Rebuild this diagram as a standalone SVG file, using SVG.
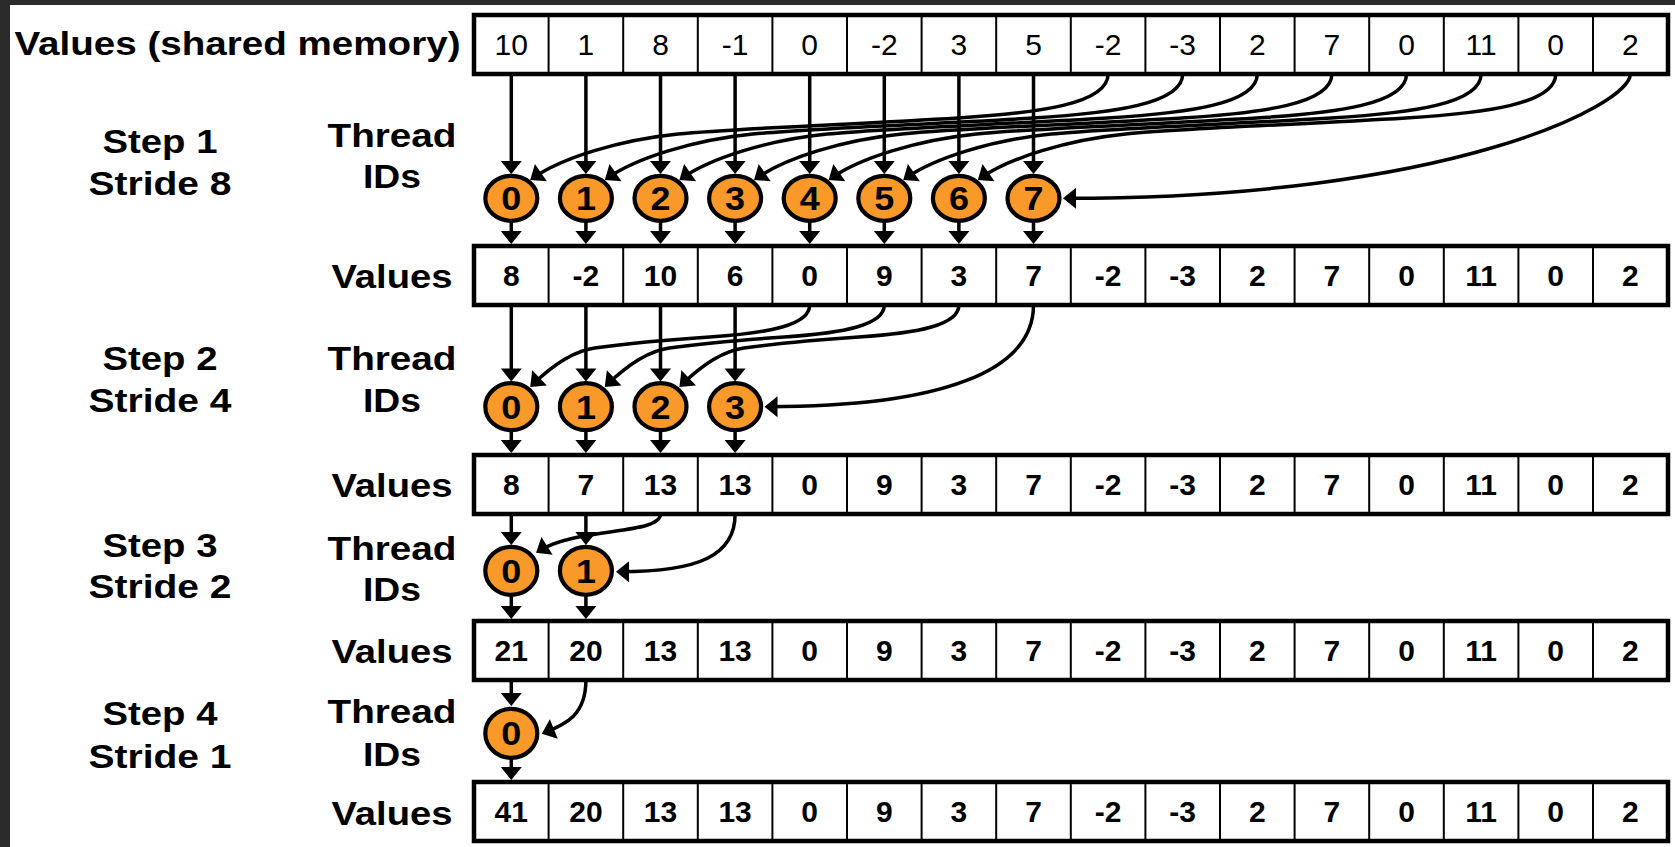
<svg xmlns="http://www.w3.org/2000/svg" width="1675" height="847" viewBox="0 0 1675 847">
<style>
text{font-family:"Liberation Sans",Arial,Helvetica,sans-serif;fill:#000;text-anchor:middle}
.lbl{font-size:33px;font-weight:bold}
.v0{font-size:30px}
.v{font-size:30px;font-weight:bold}
.tid{font-size:33px;font-weight:bold}
.frame{fill:none;stroke:#000;stroke-width:4.5}
.dv{fill:none;stroke:#000;stroke-width:2}
.th{fill:#F8992A;stroke:#000;stroke-width:4.2}
.c{fill:none;stroke:#000;stroke-width:3.5;marker-end:url(#ah)}
</style>
<defs>
<marker id="ah" markerUnits="userSpaceOnUse" markerWidth="13" markerHeight="21" refX="9.5" refY="10.5" orient="auto" overflow="visible"><path d="M0,0L13,10.5L0,21Z" fill="#000"/></marker>
<g id="grid">
<rect x="474" y="0" width="1194" height="59" fill="#fff"/>
<path class="dv" d="M548.6,0V59M623.2,0V59M697.8,0V59M772.4,0V59M847,0V59M921.6,0V59M996.2,0V59M1070.8,0V59M1145.4,0V59M1220,0V59M1294.6,0V59M1369.2,0V59M1443.8,0V59M1518.4,0V59M1593,0V59"/>
<rect class="frame" x="474" y="0" width="1194" height="59"/>
</g>
</defs>
<rect x="0" y="0" width="1675" height="847" fill="#fff"/>
<rect x="0" y="0" width="1675" height="5" fill="#2b2b2b"/>
<rect x="0" y="0" width="10" height="847" fill="#2b2b2b"/>

<g id="labels">
<text class="lbl" x="237.5" y="55" textLength="446" lengthAdjust="spacingAndGlyphs">Values (shared memory)</text>
<text class="lbl" x="160" y="153" textLength="115" lengthAdjust="spacingAndGlyphs">Step 1</text>
<text class="lbl" x="160" y="195" textLength="143" lengthAdjust="spacingAndGlyphs">Stride 8</text>
<text class="lbl" x="392" y="147" textLength="129" lengthAdjust="spacingAndGlyphs">Thread</text>
<text class="lbl" x="392" y="188" textLength="58" lengthAdjust="spacingAndGlyphs">IDs</text>
<text class="lbl" x="392" y="288" textLength="121" lengthAdjust="spacingAndGlyphs">Values</text>
<text class="lbl" x="160" y="370" textLength="115" lengthAdjust="spacingAndGlyphs">Step 2</text>
<text class="lbl" x="160" y="411.7" textLength="143" lengthAdjust="spacingAndGlyphs">Stride 4</text>
<text class="lbl" x="392" y="370" textLength="129" lengthAdjust="spacingAndGlyphs">Thread</text>
<text class="lbl" x="392" y="411.7" textLength="58" lengthAdjust="spacingAndGlyphs">IDs</text>
<text class="lbl" x="392" y="497" textLength="121" lengthAdjust="spacingAndGlyphs">Values</text>
<text class="lbl" x="160" y="556.7" textLength="115" lengthAdjust="spacingAndGlyphs">Step 3</text>
<text class="lbl" x="160" y="598" textLength="143" lengthAdjust="spacingAndGlyphs">Stride 2</text>
<text class="lbl" x="392" y="560" textLength="129" lengthAdjust="spacingAndGlyphs">Thread</text>
<text class="lbl" x="392" y="601" textLength="58" lengthAdjust="spacingAndGlyphs">IDs</text>
<text class="lbl" x="392" y="663" textLength="121" lengthAdjust="spacingAndGlyphs">Values</text>
<text class="lbl" x="160" y="725" textLength="115" lengthAdjust="spacingAndGlyphs">Step 4</text>
<text class="lbl" x="160" y="768" textLength="143" lengthAdjust="spacingAndGlyphs">Stride 1</text>
<text class="lbl" x="392" y="723" textLength="129" lengthAdjust="spacingAndGlyphs">Thread</text>
<text class="lbl" x="392" y="766" textLength="58" lengthAdjust="spacingAndGlyphs">IDs</text>
<text class="lbl" x="392" y="825" textLength="121" lengthAdjust="spacingAndGlyphs">Values</text>
</g>

<g id="row1">
<use href="#grid" transform="translate(0,15)"/>
<g class="v0">
<text x="511.3" y="55.3">10</text><text x="585.9" y="55.3">1</text><text x="660.5" y="55.3">8</text><text x="735.1" y="55.3">-1</text><text x="809.7" y="55.3">0</text><text x="884.3" y="55.3">-2</text><text x="958.9" y="55.3">3</text><text x="1033.5" y="55.3">5</text><text x="1108.1" y="55.3">-2</text><text x="1182.7" y="55.3">-3</text><text x="1257.3" y="55.3">2</text><text x="1331.9" y="55.3">7</text><text x="1406.5" y="55.3">0</text><text x="1481.1" y="55.3">11</text><text x="1555.7" y="55.3">0</text><text x="1630.3" y="55.3">2</text>
</g>
</g>

<g id="row2">
<use href="#grid" transform="translate(0,246)"/>
<g class="v">
<text x="511.3" y="286.3">8</text><text x="585.9" y="286.3">-2</text><text x="660.5" y="286.3">10</text><text x="735.1" y="286.3">6</text><text x="809.7" y="286.3">0</text><text x="884.3" y="286.3">9</text><text x="958.9" y="286.3">3</text><text x="1033.5" y="286.3">7</text><text x="1108.1" y="286.3">-2</text><text x="1182.7" y="286.3">-3</text><text x="1257.3" y="286.3">2</text><text x="1331.9" y="286.3">7</text><text x="1406.5" y="286.3">0</text><text x="1481.1" y="286.3">11</text><text x="1555.7" y="286.3">0</text><text x="1630.3" y="286.3">2</text>
</g>
</g>

<g id="row3">
<use href="#grid" transform="translate(0,455)"/>
<g class="v">
<text x="511.3" y="495.3">8</text><text x="585.9" y="495.3">7</text><text x="660.5" y="495.3">13</text><text x="735.1" y="495.3">13</text><text x="809.7" y="495.3">0</text><text x="884.3" y="495.3">9</text><text x="958.9" y="495.3">3</text><text x="1033.5" y="495.3">7</text><text x="1108.1" y="495.3">-2</text><text x="1182.7" y="495.3">-3</text><text x="1257.3" y="495.3">2</text><text x="1331.9" y="495.3">7</text><text x="1406.5" y="495.3">0</text><text x="1481.1" y="495.3">11</text><text x="1555.7" y="495.3">0</text><text x="1630.3" y="495.3">2</text>
</g>
</g>

<g id="row4">
<use href="#grid" transform="translate(0,621)"/>
<g class="v">
<text x="511.3" y="661.3">21</text><text x="585.9" y="661.3">20</text><text x="660.5" y="661.3">13</text><text x="735.1" y="661.3">13</text><text x="809.7" y="661.3">0</text><text x="884.3" y="661.3">9</text><text x="958.9" y="661.3">3</text><text x="1033.5" y="661.3">7</text><text x="1108.1" y="661.3">-2</text><text x="1182.7" y="661.3">-3</text><text x="1257.3" y="661.3">2</text><text x="1331.9" y="661.3">7</text><text x="1406.5" y="661.3">0</text><text x="1481.1" y="661.3">11</text><text x="1555.7" y="661.3">0</text><text x="1630.3" y="661.3">2</text>
</g>
</g>

<g id="row5">
<use href="#grid" transform="translate(0,782)"/>
<g class="v">
<text x="511.3" y="822.3">41</text><text x="585.9" y="822.3">20</text><text x="660.5" y="822.3">13</text><text x="735.1" y="822.3">13</text><text x="809.7" y="822.3">0</text><text x="884.3" y="822.3">9</text><text x="958.9" y="822.3">3</text><text x="1033.5" y="822.3">7</text><text x="1108.1" y="822.3">-2</text><text x="1182.7" y="822.3">-3</text><text x="1257.3" y="822.3">2</text><text x="1331.9" y="822.3">7</text><text x="1406.5" y="822.3">0</text><text x="1481.1" y="822.3">11</text><text x="1555.7" y="822.3">0</text><text x="1630.3" y="822.3">2</text>
</g>
</g>

<g id="connectors">
<!-- step 1 -->
<path class="c" d="M511.3,74V170.5"/><path class="c" d="M585.9,74V170.5"/><path class="c" d="M660.5,74V170.5"/><path class="c" d="M735.1,74V170.5"/><path class="c" d="M809.7,74V170.5"/><path class="c" d="M884.3,74V170.5"/><path class="c" d="M958.9,74V170.5"/><path class="c" d="M1033.5,74V170.5"/>
<path class="c" d="M1108.1,74 C1108.1,104 1038.1,113 958.1,118 C858.1,124.25 738.1,128 678.1,134 C618.1,140 561.1,158.5 533.1,178"/>
<path class="c" d="M1182.7,74 C1182.7,104 1112.7,113 1032.7,118 C932.7,124.25 812.7,128 752.7,134 C692.7,140 635.7,158.5 607.7,178"/>
<path class="c" d="M1257.3,74 C1257.3,104 1187.3,113 1107.3,118 C1007.3,124.25 887.3,128 827.3,134 C767.3,140 710.3,158.5 682.3,178"/>
<path class="c" d="M1331.9,74 C1331.9,104 1261.9,113 1181.9,118 C1081.9,124.25 961.9,128 901.9,134 C841.9,140 784.9,158.5 756.9,178"/>
<path class="c" d="M1406.5,74 C1406.5,104 1336.5,113 1256.5,118 C1156.5,124.25 1036.5,128 976.5,134 C916.5,140 859.5,158.5 831.5,178"/>
<path class="c" d="M1481.1,74 C1481.1,104 1411.1,113 1331.1,118 C1231.1,124.25 1111.1,128 1051.1,134 C991.1,140 934.1,158.5 906.1,178"/>
<path class="c" d="M1555.7,74 C1555.7,104 1485.7,113 1405.7,118 C1305.7,124.25 1185.7,128 1125.7,134 C1065.7,140 1008.7,158.5 980.7,178"/>
<path class="c" d="M1630.3,74 C1630.3,105 1450,198.3 1066.5,198.3"/>
<path class="c" d="M511.3,220V240.5"/><path class="c" d="M585.9,220V240.5"/><path class="c" d="M660.5,220V240.5"/><path class="c" d="M735.1,220V240.5"/><path class="c" d="M809.7,220V240.5"/><path class="c" d="M884.3,220V240.5"/><path class="c" d="M958.9,220V240.5"/><path class="c" d="M1033.5,220V240.5"/>
<!-- step 2 -->
<path class="c" d="M511.3,305V378"/><path class="c" d="M585.9,305V378"/><path class="c" d="M660.5,305V378"/><path class="c" d="M735.1,305V378"/>
<path class="c" d="M809.7,305 C809.7,325 769.7,333 709.7,337 C664.7,340 619.7,344.5 594.7,348 C569.7,351.5 547.7,370 532.7,384.5"/>
<path class="c" d="M884.3,305 C884.3,325 844.3,333 784.3,337 C739.3,340 694.3,344.5 669.3,348 C644.3,351.5 622.3,370 607.3,384.5"/>
<path class="c" d="M958.9,305 C958.9,325 918.9,333 858.9,337 C813.9,340 768.9,344.5 743.9,348 C718.9,351.5 696.9,370 681.9,384.5"/>
<path class="c" d="M1033.5,305 C1033.5,372 940,406.7 768,406.7"/>
<path class="c" d="M511.3,430V449.5"/><path class="c" d="M585.9,430V449.5"/><path class="c" d="M660.5,430V449.5"/><path class="c" d="M735.1,430V449.5"/>
<!-- step 3 -->
<path class="c" d="M511.3,514V541.5"/><path class="c" d="M585.9,514V541.5"/>
<path class="c" d="M660.5,514 C660.5,535 577,527 539,551"/>
<path class="c" d="M735.1,514 C735.1,555 700,571.7 619.5,571.7"/>
<path class="c" d="M511.3,595V615.5"/><path class="c" d="M585.9,595V615.5"/>
<!-- step 4 -->
<path class="c" d="M511.3,680V702.5"/>
<path class="c" d="M585.9,680 C585.9,715 566,724 545,732.5"/>
<path class="c" d="M511.3,758V776.5"/>
</g>

<g id="step1-threads">
<g id="s1t0"><ellipse class="th" cx="511.3" cy="198.3" rx="26" ry="22.5"/><text class="tid" x="511.3" y="210.1" textLength="20" lengthAdjust="spacingAndGlyphs">0</text></g>
<g id="s1t1"><ellipse class="th" cx="585.9" cy="198.3" rx="26" ry="22.5"/><text class="tid" x="585.9" y="210.1" textLength="20" lengthAdjust="spacingAndGlyphs">1</text></g>
<g id="s1t2"><ellipse class="th" cx="660.5" cy="198.3" rx="26" ry="22.5"/><text class="tid" x="660.5" y="210.1" textLength="20" lengthAdjust="spacingAndGlyphs">2</text></g>
<g id="s1t3"><ellipse class="th" cx="735.1" cy="198.3" rx="26" ry="22.5"/><text class="tid" x="735.1" y="210.1" textLength="20" lengthAdjust="spacingAndGlyphs">3</text></g>
<g id="s1t4"><ellipse class="th" cx="809.7" cy="198.3" rx="26" ry="22.5"/><text class="tid" x="809.7" y="210.1" textLength="20" lengthAdjust="spacingAndGlyphs">4</text></g>
<g id="s1t5"><ellipse class="th" cx="884.3" cy="198.3" rx="26" ry="22.5"/><text class="tid" x="884.3" y="210.1" textLength="20" lengthAdjust="spacingAndGlyphs">5</text></g>
<g id="s1t6"><ellipse class="th" cx="958.9" cy="198.3" rx="26" ry="22.5"/><text class="tid" x="958.9" y="210.1" textLength="20" lengthAdjust="spacingAndGlyphs">6</text></g>
<g id="s1t7"><ellipse class="th" cx="1033.5" cy="198.3" rx="26" ry="22.5"/><text class="tid" x="1033.5" y="210.1" textLength="20" lengthAdjust="spacingAndGlyphs">7</text></g>
</g>
<g id="step2-threads">
<g id="s2t0"><ellipse class="th" cx="511.3" cy="406.7" rx="26" ry="23.5"/><text class="tid" x="511.3" y="418.5" textLength="20" lengthAdjust="spacingAndGlyphs">0</text></g>
<g id="s2t1"><ellipse class="th" cx="585.9" cy="406.7" rx="26" ry="23.5"/><text class="tid" x="585.9" y="418.5" textLength="20" lengthAdjust="spacingAndGlyphs">1</text></g>
<g id="s2t2"><ellipse class="th" cx="660.5" cy="406.7" rx="26" ry="23.5"/><text class="tid" x="660.5" y="418.5" textLength="20" lengthAdjust="spacingAndGlyphs">2</text></g>
<g id="s2t3"><ellipse class="th" cx="735.1" cy="406.7" rx="26" ry="23.5"/><text class="tid" x="735.1" y="418.5" textLength="20" lengthAdjust="spacingAndGlyphs">3</text></g>
</g>
<g id="step3-threads">
<g id="s3t0"><ellipse class="th" cx="511.3" cy="570.8" rx="26" ry="24"/><text class="tid" x="511.3" y="582.6" textLength="20" lengthAdjust="spacingAndGlyphs">0</text></g>
<g id="s3t1"><ellipse class="th" cx="585.9" cy="570.8" rx="26" ry="24"/><text class="tid" x="585.9" y="582.6" textLength="20" lengthAdjust="spacingAndGlyphs">1</text></g>
</g>
<g id="step4-threads">
<g id="s4t0"><ellipse class="th" cx="511.3" cy="733.3" rx="26" ry="24.5"/><text class="tid" x="511.3" y="745.1" textLength="20" lengthAdjust="spacingAndGlyphs">0</text></g>
</g>
</svg>
